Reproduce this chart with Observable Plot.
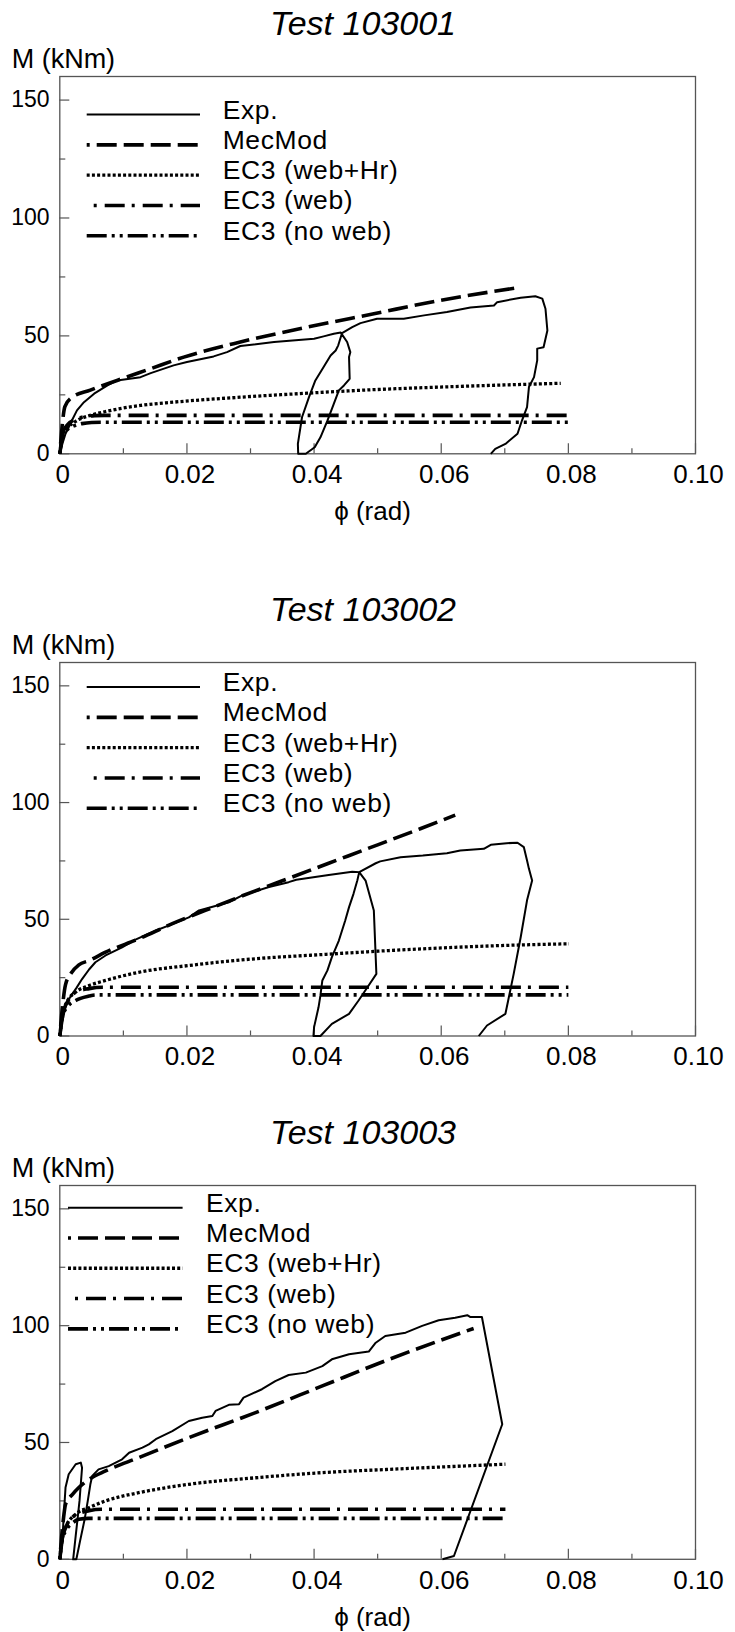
<!DOCTYPE html>
<html><head><meta charset="utf-8">
<script src="https://cdn.jsdelivr.net/npm/d3@7"></script>
<script src="https://cdn.jsdelivr.net/npm/@observablehq/plot@0.6"></script>
<style>
html,body{margin:0;padding:0;background:#fff;}
body{width:735px;height:1632px;overflow:hidden;position:relative;font-family:"Liberation Sans",Arial,Helvetica,sans-serif;}
.title{position:absolute;width:400px;text-align:center;font-style:italic;font-size:34px;line-height:34px;white-space:nowrap;color:#000;z-index:2;}
.panel{position:absolute;left:0;z-index:1;}
</style></head><body>
<script>
// ---------- data: [phi (rad), M (kNm)] ----------
const legendLabels = ["Exp.", "MecMod", "EC3 (web+Hr)", "EC3 (web)", "EC3 (no web)"];
const titles = ["Test 103001", "Test 103002", "Test 103003"];
const xMajor = [0, 0.02, 0.04, 0.06, 0.08, 0.10];
const xMinor = [0.01, 0.03, 0.05, 0.07, 0.09];
const yMajor = [0, 50, 100, 150];
const yMinor = [25, 75, 125];

const t1Exp = [[0,0],[0.0004,4.2],[0.0009,8.5],[0.0019,14.1],[0.0027,18.4],[0.0038,21.9],[0.0054,25.5],[0.0075,29.0],[0.009,31.1],[0.0127,32.5],[0.0143,34.2],[0.0179,37.5],[0.02,38.9],[0.0242,41.3],[0.0263,43.1],[0.0284,45.7],[0.0337,47.4],[0.04,48.8],[0.0415,49.8],[0.0431,50.9],[0.0442,51.4],
 [0.0452,47.4],[0.0457,43.1],[0.0455,41.0],[0.0456,31.8],[0.0447,29.0],[0.0439,26.9],[0.0431,21.2],[0.0421,14.1],[0.0410,7.0],[0.0401,2.8],[0.0387,0],
 [0.0375,0],[0.03745,4.2],[0.0381,15.5],[0.0392,24.0],[0.0402,31.1],[0.0415,36.8],[0.0426,41.7],[0.0434,43.8],[0.0438,46.0],[0.0444,51.2],
 [0.046,53.7],[0.0473,55.4],[0.0499,57.3],[0.0541,57.3],[0.0573,58.7],[0.0609,60.1],[0.0646,62.0],[0.0683,62.9],[0.0688,64.3],[0.0725,66.2],[0.0748,66.8],[0.0759,65.8],[0.0764,61.5],[0.0767,52.3],[0.0761,45.2],[0.0751,44.6],[0.0751,39.6],[0.0746,32.5],[0.0738,28.3],[0.0735,19.8],[0.0727,14.1],[0.0720,8.5],[0.0701,4.2],[0.0685,2.1],[0.0678,0]];
const t1Mec = [[0,0],[0.0008,20],[0.0017,23.5],[0.0048,27],[0.009,31.1],[0.0143,36.1],[0.0195,41.0],[0.0284,47.4],[0.0389,53.7],[0.0494,59.4],[0.0599,65.1],[0.072,70.4]];
const t1Hr = [[0,0],[0.0005,8.5],[0.0012,11],[0.0027,14.1],[0.0048,16.3],[0.0075,18.1],[0.0127,20.5],[0.0179,21.9],[0.0284,24.0],[0.0389,25.7],[0.0494,27.2],[0.0599,28.3],[0.070,29.2],[0.0788,29.9]];
const t1Web = [[0,0],[0.0005,9],[0.0012,12.3],[0.0025,14.6],[0.004,15.8],[0.0055,16.2],[0.007,16.3],[0.08,16.3]];
const t1NoWeb = [[0,0],[0.0005,8],[0.0012,10.3],[0.0022,11.8],[0.0035,12.8],[0.005,13.3],[0.0065,13.4],[0.08,13.4]];

const t2Exp = [[0,0],[0.0004,6.6],[0.0011,14.5],[0.0026,20.5],[0.0035,24.4],[0.0046,28.5],[0.0056,31.6],[0.0072,34.5],[0.0098,38.0],[0.0119,41.3],[0.0151,45.2],[0.0171,47.3],[0.0203,50.8],[0.0219,53.8],[0.0266,57.3],[0.0287,60.2],[0.0329,63.8],[0.036,65.9],[0.0372,66.9],[0.0423,69.0],[0.046,70.4],[0.0471,70.2],
 [0.0481,66.6],[0.0494,53.8],[0.0498,26.6],[0.0484,20.9],[0.047,15.2],[0.0455,9.5],[0.0428,5.2],[0.041,0],
 [0.0399,0],[0.04,3.8],[0.0407,12.3],[0.041,17.4],[0.0413,23.8],[0.0421,28.1],[0.0428,33.8],[0.0439,40.9],[0.0449,49.5],[0.0455,55.2],[0.0462,60.9],[0.0468,66.6],[0.0471,70.2],
 [0.0497,74.0],[0.0504,74.8],[0.0536,76.6],[0.0571,77.3],[0.0609,78.3],[0.063,79.5],[0.0667,80.2],[0.0678,81.9],[0.0703,82.6],[0.0720,82.8],[0.073,80.9],[0.0735,75.2],[0.0738,71.6],[0.0743,66.6],[0.0735,58.1],[0.0725,42.3],[0.0714,26.6],[0.0701,9.5],[0.0672,4.5],[0.0659,0]];
const t2Mec = [[0,0],[0.0004,12],[0.0009,22],[0.0018,27],[0.003,30.5],[0.0046,32.3],[0.0072,35.9],[0.0124,41.6],[0.0177,48.1],[0.0229,53.8],[0.0282,59.5],[0.035,66.5],[0.0423,74.0],[0.050,81.9],[0.0567,88.8],[0.0622,94.6]];
const t2Hr = [[0,0],[0.0005,10],[0.0012,15],[0.0025,18.8],[0.0046,21.6],[0.0072,23.8],[0.0124,27.3],[0.0203,30.2],[0.0308,33.1],[0.0413,34.9],[0.0518,36.6],[0.0622,38.0],[0.070,38.8],[0.0801,39.5]];
const t2Web = [[0,0],[0.0005,10],[0.0012,14.5],[0.0025,18.8],[0.0046,20.3],[0.0067,20.9],[0.08,20.9]];
const t2NoWeb = [[0,0],[0.0005,9],[0.0012,12.5],[0.0025,15.2],[0.0046,17.1],[0.0056,17.6],[0.08,17.6]];

const t3Exp = [[0,0],[0.0004,7.8],[0.0006,17.8],[0.0009,30.7],[0.0014,36.4],[0.0025,40.7],[0.0033,41.4],[0.0035,39.2],[0.0031,25],[0.0025,10],[0.0021,0],
 [0.0026,0],[0.0032,8],[0.0039,17],[0.0044,25],[0.0048,32],[0.0051,35.7],
 [0.0061,38.5],[0.0077,39.9],[0.0098,42.8],[0.0109,45.6],[0.013,47.8],[0.014,49.2],[0.0151,51.4],[0.0177,54.9],[0.0203,59.2],[0.0224,60.6],[0.024,61.3],[0.0245,63.5],[0.0266,66.1],[0.0282,66.4],[0.0289,69.2],[0.0318,72.8],[0.0339,76.3],[0.036,78.9],[0.0387,79.9],[0.0413,82.7],[0.0428,85.6],[0.0455,87.8],[0.0486,88.9],[0.0497,92.7],[0.0512,95.6],[0.0544,97.0],[0.057,99.9],[0.0596,102.3],[0.0622,103.4],[0.0641,104.5],[0.0646,103.7],[0.0664,103.7],[0.0696,57.8],[0.062,1.4],[0.0602,0]];
const t3Mec = [[0,0],[0.0003,10],[0.0006,18],[0.0009,23.5],[0.002,27.8],[0.003,30.7],[0.0046,34.2],[0.0072,37.8],[0.0124,43.5],[0.0203,52.1],[0.0308,62.8],[0.0413,74.2],[0.0518,85.6],[0.0651,98.8]];
const t3Hr = [[0,0],[0.0004,9],[0.0009,13.5],[0.0025,19.3],[0.0046,22.1],[0.0072,25],[0.0124,28.5],[0.0203,32.1],[0.0308,34.9],[0.0413,37.1],[0.0518,38.5],[0.0701,40.7]];
const t3Web = [[0,0],[0.0004,9],[0.001,14],[0.0025,19],[0.0046,20.8],[0.0065,21.4],[0.0701,21.4]];
const t3NoWeb = [[0,0],[0.0004,8.5],[0.001,12.5],[0.002,15.5],[0.003,17.1],[0.0045,17.5],[0.0701,17.5]];

// ---------- layout & styles ----------
const FONT = "Liberation Sans, Arial, Helvetica, sans-serif";
const W = 735, ML = 59.3, MR = 40, MT = 60;
const panels = [
  {series:[t1Exp,t1Mec,t1Hr,t1Web,t1NoWeb], frameTop:76, frameH:377.3, mb:80, xLabel:true, legDy:15, legX:[86.7,200,222.7]},
  {series:[t2Exp,t2Mec,t2Hr,t2Web,t2NoWeb], frameTop:662, frameH:373.5, mb:60, xLabel:false, legDy:1.7, legX:[86.7,200,222.7]},
  {series:[t3Exp,t3Mec,t3Hr,t3Web,t3NoWeb], frameTop:1184.5, frameH:373.8, mb:75, xLabel:true, legDy:-0.7, legX:[68,182.6,206]}
];
const styles = [
  {sw:2,   dash:null, off:0, curve:"linear"},
  {sw:3.6, dash:"20 7", off:17, curve:"monotone-x"},
  {sw:3.3, dash:"3 2.2", off:0, curve:"monotone-x"},
  {sw:3.6, dash:"20 7 3 8", off:20, curve:"monotone-x"},
  {sw:3.6, dash:"20 5 3 5 3 5", off:0, curve:"monotone-x"}
];
const AX = "#555";

panels.forEach((p, i) => {
  const H = MT + p.frameH + p.mb;
  const frameW = W - ML - MR;
  const marks = [
    Plot.frame({stroke: AX, strokeWidth: 1.3}),
    Plot.tickX(xMajor, {x: d => d, stroke: AX, strokeWidth: 1.2, insetTop: p.frameH - 10}),
    Plot.tickX(xMinor, {x: d => d, stroke: AX, strokeWidth: 1.2, insetTop: p.frameH - 5}),
    Plot.tickY(yMajor, {y: d => d, stroke: AX, strokeWidth: 1.2, insetRight: frameW - 10}),
    Plot.tickY(yMinor, {y: d => d, stroke: AX, strokeWidth: 1.2, insetRight: frameW - 6}),
    Plot.axisX(xMajor, {label: null, tickSize: 0, tickPadding: 11, fontSize: 26, dx: 3,
      tickFormat: d => d === 0 ? "0" : d.toFixed(2)}),
    Plot.axisY(yMajor, {label: null, tickSize: 0, tickPadding: 10.3, fontSize: 23, tickFormat: d => String(d)})
  ];
  p.series.forEach((data, k) => {
    const s = styles[k];
    marks.push(Plot.line(data, {x: d => d[0], y: d => d[1], stroke: "black", strokeWidth: s.sw,
      strokeDasharray: s.dash || undefined, strokeDashoffset: s.off, curve: s.curve,
      strokeLinejoin: "round", strokeLinecap: "butt"}));
  });
  const svg = Plot.plot({
    width: W, height: H, marginLeft: ML, marginRight: MR, marginTop: MT, marginBottom: p.mb,
    x: {domain: [0, 0.1]}, y: {domain: [0, 160]},
    style: {background: "none", fontFamily: FONT, fontSize: "26px", color: "black", overflow: "visible"},
    marks
  });
  const holder = document.createElement("div");
  holder.className = "panel";
  holder.style.top = (p.frameTop - MT) + "px";
  holder.appendChild(svg);
  document.body.appendChild(holder);

  const sel = d3.select(svg);
  const yS = svg.scale("y");
  // y-axis label
  sel.append("text").attr("x", 11.7).attr("y", MT - 7.7).attr("text-anchor", "start")
    .attr("font-family", FONT).attr("font-size", 27).attr("fill", "black").text("M (kNm)");
  // x-axis label
  if (p.xLabel) {
    sel.append("text").attr("x", 372.5).attr("y", MT + p.frameH + 67).attr("text-anchor", "middle")
      .attr("font-family", FONT).attr("font-size", 26).attr("fill", "black").text("\u03D5 (rad)");
  }
  // legend
  const g = sel.append("g").attr("aria-label", "legend").attr("text-anchor", "start");
  legendLabels.forEach((lab, k) => {
    const s = styles[k];
    const yy = yS.apply(150) + p.legDy + k * 30.3;
    const ln = g.append("line").attr("x1", p.legX[0]).attr("x2", p.legX[1]).attr("y1", yy).attr("y2", yy)
      .attr("stroke", "black").attr("stroke-width", s.sw);
    if (s.dash) ln.attr("stroke-dasharray", s.dash).attr("stroke-dashoffset", s.off);
    g.append("text").attr("x", p.legX[2]).attr("y", yy + 4).attr("text-anchor", "start")
      .attr("font-family", FONT).attr("font-size", 26.5).attr("letter-spacing", 0.6)
      .attr("fill", "black").text(lab);
  });

  const t = document.createElement("div");
  t.className = "title";
  t.textContent = titles[i];
  t.style.left = (363 - 200) + "px";
  t.style.top = (p.frameTop - 41 - 0.8465 * 34) + "px";
  document.body.appendChild(t);
});
</script>
</body></html>
